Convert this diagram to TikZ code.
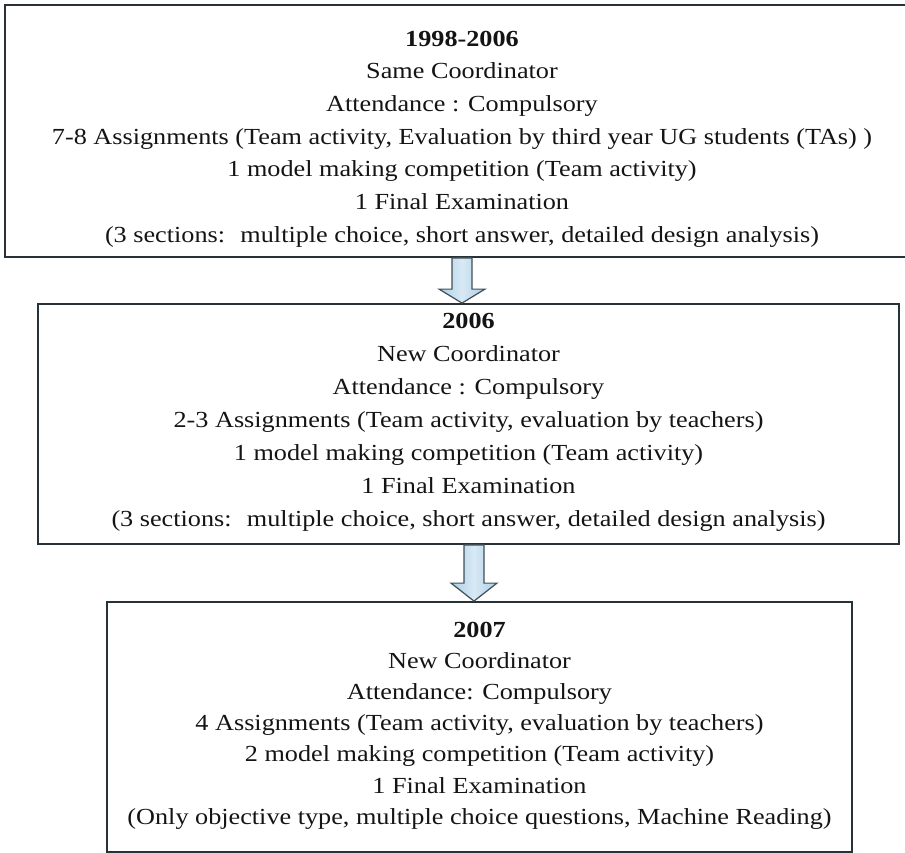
\documentclass[tikz,border=0pt]{standalone}
\usepackage{fontspec}
\setmainfont{Liberation Serif}[FakeStretch=1.14]
\usepackage{tikz}
\usetikzlibrary{calc}
\usetikzlibrary{positioning}

\definecolor{boxline}{RGB}{38,50,56}
\definecolor{arrowblue}{RGB}{170,206,232}
\definecolor{arrowline}{RGB}{66,78,84}

\tikzset{
 period/.style={draw=boxline,line width=1.8pt,inner sep=0pt},
 entry/.style={inner sep=0pt,align=center,text=black!92},
 downarrow/.style={draw=arrowline,line width=1.2pt,line join=miter,
  left color=arrowblue,right color=arrowblue,middle color=arrowblue!45}
}
\newcommand{\bigarrow}[3]{%
 \draw[downarrow]($(#1)+(-10,0)$)--($(#2)+(-10,-#3)$)--($(#2)+(-23,-#3)$)--(#2)
  --($(#2)+(23,-#3)$)--($(#2)+(10,-#3)$)--($(#1)+(10,0)$)--cycle;}

\begin{document}
\begin{tikzpicture}[x=1pt,y=-1pt]
\useasboundingbox(0,0)rectangle(905,853);
\node[period,minimum width=914pt,minimum height=252pt](box1)at(462,131){};
\node[period,minimum width=861pt,minimum height=240pt](box2)at(468.5,424){};
\node[period,minimum width=745pt,minimum height=250pt](box3)at(479.5,727){};

\node[entry,font={\fontsize{23}{32.7}\selectfont},below=26.5pt of box1.north](text1){%
 \textbf{1998-2006}\\Same Coordinator\\Attendance : Compulsory\\
 7-8 Assignments (Team activity, Evaluation by third year UG students (TAs) )\\
 1 model making competition (Team activity)\\1 Final Examination\\
 (3 sections:~ multiple choice, short answer, detailed design analysis)};
\node[entry,font={\fontsize{23}{33}\selectfont},below=10pt of box2.north](text2){%
 \textbf{2006}\\New Coordinator\\Attendance : Compulsory\\
 2-3 Assignments (Team activity, evaluation by teachers)\\
 1 model making competition (Team activity)\\1 Final Examination\\
 (3 sections:~ multiple choice, short answer, detailed design analysis)};
\node[entry,font={\fontsize{23}{31.2}\selectfont},below=20.5pt of box3.north](text3){%
 \textbf{2007}\\New Coordinator\\Attendance: Compulsory\\
 4 Assignments (Team activity, evaluation by teachers)\\
 2 model making competition (Team activity)\\1 Final Examination\\
 (Only objective type, multiple choice questions, Machine Reading)};

\coordinate(a1top)at(box1.south);
\coordinate(a1tip)at(box2.north -| box1.south);
\coordinate(a2)at($(box2.south)!0.5!(box3.north)$);
\coordinate(a2top)at(box2.south -| a2);
\coordinate(a2tip)at(box3.north -| a2);
\bigarrow{a1top}{a1tip}{14}
\bigarrow{a2top}{a2tip}{18}
\end{tikzpicture}
\end{document}
